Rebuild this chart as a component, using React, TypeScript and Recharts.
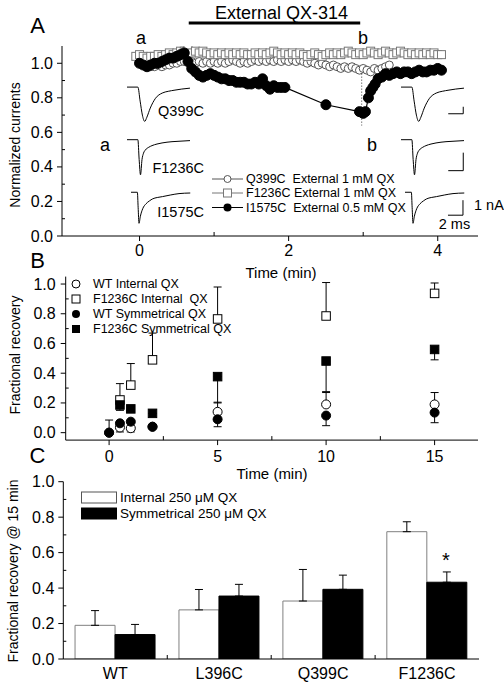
import React from 'react';
import {
  ComposedChart, LineChart, Line, XAxis, YAxis, ReferenceLine,
  ScatterChart, Scatter, ErrorBar, BarChart, Bar,
} from 'recharts';

const FONT = '"Liberation Sans", Arial, Helvetica, sans-serif';

// ---------------- Panel A: normalized currents vs time (min) ----------------
const q399cExternal = [
  { t: 0, v: 1.0 }, { t: 0.05, v: 0.99 }, { t: 0.1, v: 0.99 }, { t: 0.15, v: 0.98 }, { t: 0.2, v: 0.98 },
  { t: 0.25, v: 0.99 }, { t: 0.3, v: 0.98 }, { t: 0.35, v: 0.99 }, { t: 0.4, v: 0.99 }, { t: 0.45, v: 1.0 },
  { t: 0.5, v: 1.0 }, { t: 0.55, v: 1.01 }, { t: 0.6, v: 1.01 }, { t: 0.65, v: 1.02 }, { t: 0.7, v: 1.01 },
  { t: 0.75, v: 1.0 }, { t: 0.8, v: 1.01 }, { t: 0.85, v: 1.0 }, { t: 0.9, v: 1.01 }, { t: 0.95, v: 1.0 },
  { t: 1.0, v: 1.01 }, { t: 1.05, v: 1.0 }, { t: 1.1, v: 1.01 }, { t: 1.15, v: 1.0 }, { t: 1.2, v: 1.01 },
  { t: 1.25, v: 1.02 }, { t: 1.3, v: 1.01 }, { t: 1.35, v: 1.0 }, { t: 1.4, v: 1.01 }, { t: 1.45, v: 1.0 },
  { t: 1.5, v: 1.01 }, { t: 1.55, v: 1.02 }, { t: 1.6, v: 1.01 }, { t: 1.65, v: 1.02 }, { t: 1.7, v: 1.01 },
  { t: 1.75, v: 1.02 }, { t: 1.8, v: 1.01 }, { t: 1.85, v: 1.02 }, { t: 1.9, v: 1.01 }, { t: 1.95, v: 1.02 },
  { t: 2.0, v: 1.01 }, { t: 2.05, v: 1.02 }, { t: 2.1, v: 1.01 }, { t: 2.15, v: 1.02 }, { t: 2.2, v: 1.01 },
  { t: 2.25, v: 1.0 }, { t: 2.3, v: 1.01 }, { t: 2.35, v: 1.0 }, { t: 2.4, v: 0.99 }, { t: 2.45, v: 1.0 },
  { t: 2.5, v: 0.99 }, { t: 2.55, v: 0.98 }, { t: 2.6, v: 0.99 }, { t: 2.65, v: 0.98 }, { t: 2.7, v: 0.97 },
  { t: 2.75, v: 0.98 }, { t: 2.8, v: 0.97 }, { t: 2.85, v: 0.98 }, { t: 2.9, v: 0.97 }, { t: 2.95, v: 0.96 },
  { t: 3.0, v: 0.97 }, { t: 3.05, v: 0.96 }, { t: 3.1, v: 0.95 }, { t: 3.15, v: 0.97 }, { t: 3.2, v: 0.96 },
  { t: 3.25, v: 0.97 }, { t: 3.3, v: 0.98 }, { t: 3.35, v: 0.99 },
];

const f1236cExternal = [
  { t: -0.05, v: 1.04 }, { t: 0, v: 1.05 }, { t: 0.05, v: 1.04 }, { t: 0.1, v: 1.03 }, { t: 0.15, v: 1.04 },
  { t: 0.2, v: 1.04 }, { t: 0.25, v: 1.05 }, { t: 0.3, v: 1.04 }, { t: 0.35, v: 1.05 }, { t: 0.4, v: 1.06 },
  { t: 0.45, v: 1.05 }, { t: 0.5, v: 1.06 }, { t: 0.55, v: 1.07 }, { t: 0.6, v: 1.07 }, { t: 0.65, v: 1.08 },
  { t: 0.7, v: 1.06 }, { t: 0.75, v: 1.07 }, { t: 0.8, v: 1.06 }, { t: 0.85, v: 1.07 }, { t: 0.9, v: 1.06 },
  { t: 0.95, v: 1.05 }, { t: 1.0, v: 1.06 }, { t: 1.05, v: 1.05 }, { t: 1.1, v: 1.06 }, { t: 1.15, v: 1.05 },
  { t: 1.2, v: 1.06 }, { t: 1.25, v: 1.05 }, { t: 1.3, v: 1.06 }, { t: 1.35, v: 1.05 }, { t: 1.4, v: 1.06 },
  { t: 1.45, v: 1.05 }, { t: 1.5, v: 1.05 }, { t: 1.55, v: 1.06 }, { t: 1.6, v: 1.05 }, { t: 1.65, v: 1.06 },
  { t: 1.7, v: 1.05 }, { t: 1.75, v: 1.06 }, { t: 1.8, v: 1.07 }, { t: 1.85, v: 1.06 }, { t: 1.9, v: 1.05 },
  { t: 1.95, v: 1.06 }, { t: 2.0, v: 1.05 }, { t: 2.05, v: 1.06 }, { t: 2.1, v: 1.05 }, { t: 2.15, v: 1.06 },
  { t: 2.2, v: 1.05 }, { t: 2.25, v: 1.04 }, { t: 2.3, v: 1.05 }, { t: 2.35, v: 1.06 }, { t: 2.4, v: 1.05 },
  { t: 2.45, v: 1.04 }, { t: 2.5, v: 1.05 }, { t: 2.55, v: 1.06 }, { t: 2.6, v: 1.05 }, { t: 2.65, v: 1.06 },
  { t: 2.7, v: 1.05 }, { t: 2.75, v: 1.06 }, { t: 2.8, v: 1.07 }, { t: 2.85, v: 1.06 }, { t: 2.9, v: 1.05 },
  { t: 2.95, v: 1.06 }, { t: 3.0, v: 1.05 }, { t: 3.05, v: 1.06 }, { t: 3.1, v: 1.07 }, { t: 3.15, v: 1.06 },
  { t: 3.2, v: 1.05 }, { t: 3.25, v: 1.06 }, { t: 3.3, v: 1.07 }, { t: 3.35, v: 1.06 }, { t: 3.4, v: 1.05 },
  { t: 3.45, v: 1.06 }, { t: 3.5, v: 1.07 }, { t: 3.55, v: 1.06 }, { t: 3.6, v: 1.05 }, { t: 3.65, v: 1.06 },
  { t: 3.7, v: 1.05 }, { t: 3.75, v: 1.06 }, { t: 3.8, v: 1.05 }, { t: 3.85, v: 1.06 }, { t: 3.9, v: 1.05 },
  { t: 3.95, v: 1.06 }, { t: 4.0, v: 1.05 }, { t: 4.05, v: 1.05 },
];

const i1575cExternal = [
  { t: 0, v: 1.0 }, { t: 0.05, v: 0.99 }, { t: 0.1, v: 0.98 }, { t: 0.15, v: 0.99 }, { t: 0.2, v: 1.0 },
  { t: 0.25, v: 1.0 }, { t: 0.3, v: 1.01 }, { t: 0.35, v: 1.02 }, { t: 0.4, v: 1.03 }, { t: 0.45, v: 1.03 },
  { t: 0.5, v: 1.04 }, { t: 0.55, v: 1.05 }, { t: 0.6, v: 1.06 }, { t: 0.65, v: 1.01 }, { t: 0.7, v: 0.97 },
  { t: 0.75, v: 0.95 }, { t: 0.8, v: 0.93 }, { t: 0.85, v: 0.92 }, { t: 0.9, v: 0.93 }, { t: 0.95, v: 0.94 },
  { t: 1.0, v: 0.93 }, { t: 1.05, v: 0.92 }, { t: 1.1, v: 0.91 }, { t: 1.15, v: 0.91 }, { t: 1.2, v: 0.9 },
  { t: 1.25, v: 0.9 }, { t: 1.3, v: 0.89 }, { t: 1.35, v: 0.89 }, { t: 1.4, v: 0.89 }, { t: 1.45, v: 0.88 },
  { t: 1.5, v: 0.88 }, { t: 1.55, v: 0.89 }, { t: 1.6, v: 0.88 }, { t: 1.65, v: 0.91 }, { t: 1.7, v: 0.87 },
  { t: 1.75, v: 0.85 }, { t: 1.8, v: 0.87 }, { t: 1.85, v: 0.86 }, { t: 1.9, v: 0.86 }, { t: 1.95, v: 0.86 },
  { t: 2.5, v: 0.76 }, { t: 2.95, v: 0.72 }, { t: 3.0, v: 0.71 }, { t: 3.03, v: 0.72 }, { t: 3.07, v: 0.8 },
  { t: 3.1, v: 0.84 }, { t: 3.13, v: 0.86 }, { t: 3.16, v: 0.88 }, { t: 3.2, v: 0.91 }, { t: 3.25, v: 0.92 },
  { t: 3.3, v: 0.94 }, { t: 3.35, v: 0.93 }, { t: 3.4, v: 0.94 }, { t: 3.45, v: 0.95 }, { t: 3.5, v: 0.94 },
  { t: 3.55, v: 0.95 }, { t: 3.6, v: 0.95 }, { t: 3.65, v: 0.94 }, { t: 3.7, v: 0.95 }, { t: 3.75, v: 0.96 },
  { t: 3.8, v: 0.95 }, { t: 3.85, v: 0.95 }, { t: 3.9, v: 0.96 }, { t: 3.95, v: 0.96 }, { t: 4.0, v: 0.97 },
  { t: 4.05, v: 0.96 },
];

const qxApplication = { start: 0.66, end: 2.96, level: 1.233 };
const timeB = { t: 2.98, top: 0.94, bottom: 0.64 };
const ticksA_X = [0, 1, 2, 3, 4];
const majorsA_X = [0, 2, 4];
const ticksUnit = [0, 0.1, 0.2, 0.3, 0.4, 0.5, 0.6, 0.7, 0.8, 0.9, 1.0];
const majorsUnit = [0, 0.2, 0.4, 0.6, 0.8, 1.0];

// current traces (ms, nA)
const traceQ399C = [
  { ms: 0, nA: 0 }, { ms: 1.45, nA: 0 }, { ms: 1.75, nA: -2.0 }, { ms: 2.05, nA: -4.0 }, { ms: 2.36, nA: -4.9 },
  { ms: 2.65, nA: -4.3 }, { ms: 3.1, nA: -3.0 }, { ms: 3.8, nA: -1.6 }, { ms: 4.7, nA: -0.85 }, { ms: 5.5, nA: -0.6 },
  { ms: 6.4, nA: -0.43 }, { ms: 7.3, nA: -0.28 }, { ms: 8.4, nA: -0.15 },
];
const traceF1236C = [
  { ms: 0, nA: 0 }, { ms: 1.45, nA: 0 }, { ms: 1.62, nA: -1.1 }, { ms: 1.8, nA: -1.95 }, { ms: 2.0, nA: -1.1 },
  { ms: 2.2, nA: -0.75 }, { ms: 2.45, nA: -0.57 }, { ms: 2.9, nA: -0.42 }, { ms: 3.33, nA: -0.33 }, { ms: 4.0, nA: -0.24 },
  { ms: 4.67, nA: -0.18 }, { ms: 6.0, nA: -0.11 }, { ms: 7.2, nA: -0.08 }, { ms: 8.4, nA: -0.05 },
];
const traceI1575C = [
  { ms: 0, nA: 0 }, { ms: 0.85, nA: 0 }, { ms: 0.95, nA: -1.0 }, { ms: 1.07, nA: -2.07 }, { ms: 1.25, nA: -1.6 },
  { ms: 1.56, nA: -1.1 }, { ms: 2.0, nA: -0.77 }, { ms: 2.45, nA: -0.58 }, { ms: 2.89, nA: -0.44 }, { ms: 3.5, nA: -0.35 },
  { ms: 4.2, nA: -0.29 }, { ms: 5.3, nA: -0.18 }, { ms: 6.4, nA: -0.09 }, { ms: 7.9, nA: -0.05 },
];
// scale bars: 2 ms horizontal, 1 nA vertical
const barQ399C = [{ ms: 6.3, nA: -3.81 }, { ms: 8.3, nA: -3.81 }, { ms: 8.3, nA: -2.81 }];
const barF1236C = [{ ms: 6.3, nA: -1.72 }, { ms: 8.3, nA: -1.72 }, { ms: 8.3, nA: -0.72 }];
const barI1575C = [{ ms: 5.73, nA: -1.53 }, { ms: 7.73, nA: -1.53 }, { ms: 7.73, nA: -0.53 }];

// ---------------- Panel B: fractional recovery vs time ----------------
const wtInternal = [
  { t: 0, v: 0.0, err: [0, 0.085] }, { t: 0.5, v: 0.035, err: [0.03, 0] }, { t: 1, v: 0.03, err: [0.025, 0] },
  { t: 2, v: 0.04, err: [0, 0] }, { t: 5, v: 0.14, err: [0, 0.065] }, { t: 10, v: 0.19, err: [0, 0.08] },
  { t: 15, v: 0.19, err: [0, 0.08] },
];
const f1236cInternal = [
  { t: 0.5, v: 0.22, err: [0, 0.11] }, { t: 1, v: 0.32, err: [0, 0.145] }, { t: 2, v: 0.49, err: [0, 0.18] },
  { t: 5, v: 0.765, err: [0, 0.215] }, { t: 10, v: 0.785, err: [0, 0.225] }, { t: 15, v: 0.937, err: [0, 0.07] },
];
const wtSymmetrical = [
  { t: 0, v: 0.0, err: [0, 0] }, { t: 0.5, v: 0.063, err: [0, 0] }, { t: 1, v: 0.074, err: [0, 0] },
  { t: 2, v: 0.04, err: [0, 0] }, { t: 5, v: 0.09, err: [0.05, 0] }, { t: 10, v: 0.115, err: [0.068, 0] },
  { t: 15, v: 0.135, err: [0.068, 0] },
];
const f1236cSymmetrical = [
  { t: 0.5, v: 0.186, err: [0.036, 0] }, { t: 1, v: 0.16, err: [0, 0] }, { t: 2, v: 0.13, err: [0, 0] },
  { t: 5, v: 0.377, err: [0.177, 0] }, { t: 10, v: 0.482, err: [0.206, 0] }, { t: 15, v: 0.56, err: [0.07, 0] },
];
const ticksB_X = [0, 2.5, 5, 7.5, 10, 12.5, 15];
const majorsB_X = [0, 5, 10, 15];

// ---------------- Panel C: fractional recovery @ 15 min ----------------
const genotypes = ['WT', 'L396C', 'Q399C', 'F1236C'];
const internalMean = [0.19, 0.277, 0.327, 0.718];
const internalErr = [0.083, 0.115, 0.178, 0.056];
const symmetricalMean = [0.138, 0.355, 0.393, 0.433];
const symmetricalErr = [0.057, 0.066, 0.08, 0.058];

const cData = genotypes.map((g, i) => ({
  name: g,
  internal: internalMean[i],
  internalE: [0, internalErr[i]],
  sym: symmetricalMean[i],
  symE: [0, symmetricalErr[i]],
}));

// ---------------- helpers ----------------
const isIn = (arr: number[], v: number) => arr.some((m) => Math.abs(m - v) < 1e-9);

function yTick(majors: number[], gap: number) {
  return (props: any) => {
    const { x, y, payload } = props;
    const v = payload.value;
    const major = isIn(majors, v);
    return (
      <g key={`y-${v}`}>
        {major ? (
          <line x1={x - 5} x2={x} y1={y} y2={y} stroke="#000" strokeWidth={1} />
        ) : (
          <line x1={x} x2={x + 3} y1={y} y2={y} stroke="#000" strokeWidth={1} />
        )}
        {major && (
          <text x={x - gap} y={y} textAnchor="end" dominantBaseline="central" fontSize={16} fontFamily={FONT} fill="#000">
            {v.toFixed(1)}
          </text>
        )}
      </g>
    );
  };
}

function xTick(majors: number[], dy: number) {
  return (props: any) => {
    const { x, y, payload } = props;
    const v = payload.value;
    const major = isIn(majors, v);
    return (
      <g key={`x-${v}`}>
        {major ? (
          <line x1={x} x2={x} y1={y} y2={y + 5} stroke="#000" strokeWidth={1} />
        ) : (
          <line x1={x} x2={x} y1={y} y2={y - 4} stroke="#000" strokeWidth={1} />
        )}
        {major && (
          <text x={x} y={y + dy} textAnchor="middle" dominantBaseline="central" fontSize={16} fontFamily={FONT} fill="#000">
            {String(v)}
          </text>
        )}
      </g>
    );
  };
}

const catTick = (props: any) => {
  const { x, y, payload, index } = props;
  return (
    <g key={`c-${payload.value}`}>
      {index < 3 && <line x1={x + 52} x2={x + 52} y1={y} y2={y - 4} stroke="#000" />}
      <text x={x} y={y + 14} textAnchor="middle" dominantBaseline="central" fontSize={16} fontFamily={FONT} fill="#000">
        {payload.value}
      </text>
    </g>
  );
};

const squareDot = (size: number, fill: string, stroke: string) => (p: any) => (
  <rect key={`sq-${p.index}`} x={p.cx - size / 2} y={p.cy - size / 2} width={size} height={size} fill={fill} stroke={stroke} strokeWidth={1} />
);
const circleDot = (r: number, fill: string, stroke: string) => (p: any) => (
  <circle key={`ci-${p.index}`} cx={p.cx} cy={p.cy} r={r} fill={fill} stroke={stroke} strokeWidth={1} />
);

type TraceProps = {
  left: number; top: number; width: number; height: number;
  xDomain: [number, number]; yDomain: [number, number];
  trace: { ms: number; nA: number }[]; bar?: { ms: number; nA: number }[];
};
function Trace({ left, top, width, height, xDomain, yDomain, trace, bar }: TraceProps) {
  return (
    <div style={{ position: 'absolute', left, top, width, height }}>
      <LineChart width={width} height={height} margin={{ top: 0, right: 0, bottom: 0, left: 0 }}>
        <XAxis type="number" dataKey="ms" domain={xDomain} hide allowDataOverflow />
        <YAxis type="number" dataKey="nA" domain={yDomain} hide allowDataOverflow />
        <Line data={trace} dataKey="nA" type="monotone" stroke="#000" strokeWidth={1} dot={false} activeDot={false} isAnimationActive={false} />
        {bar && (
          <Line data={bar} dataKey="nA" type="linear" stroke="#000" strokeWidth={1} dot={false} activeDot={false} isAnimationActive={false} />
        )}
      </LineChart>
    </div>
  );
}

const T = (p: any) => <text fontFamily={FONT} fill="#000" dominantBaseline="central" style={{ whiteSpace: 'pre' }} {...p} />;

export default function App() {
  const rows = [
    { trace: traceQ399C, bar: barQ399C, ax: 126.7, top: 85.2, h: 39.2, yd: [-5.3, 0.3] as [number, number] },
    { trace: traceF1236C, bar: barF1236C, ax: 126.7, top: 137.3, h: 40.5, yd: [-2.1, 0.15] as [number, number] },
    { trace: traceI1575C, bar: barI1575C, ax: 130.5, top: 189.75, h: 36, yd: [-2.25, 0.15] as [number, number] },
  ];
  return (
    <div style={{ position: 'absolute', left: 0, top: 0, width: 504, height: 682, background: '#fff', overflow: 'hidden' }}>
      {/* Panel A */}
      <div style={{ position: 'absolute', left: 0, top: 0 }}>
        <ComposedChart width={504} height={290} margin={{ top: 46, right: 26, bottom: 0, left: 0 }}>
          <XAxis type="number" dataKey="t" domain={[-1.04, 4.54]} allowDataOverflow ticks={ticksA_X} interval={0}
            tickSize={0} tickMargin={0} tickLine={false} tick={xTick(majorsA_X, 14)} height={54} stroke="#000" />
          <YAxis type="number" dataKey="v" domain={[0, 1.1]} allowDataOverflow ticks={ticksUnit} interval={0}
            tickSize={0} tickMargin={0} tickLine={false} tick={yTick(majorsUnit, 9)} width={62} stroke="#000" />
          <ReferenceLine segment={[{ x: qxApplication.start, y: qxApplication.level }, { x: qxApplication.end, y: qxApplication.level }]}
            stroke="#000" strokeWidth={3} ifOverflow="visible" />
          <ReferenceLine segment={[{ x: timeB.t, y: timeB.top }, { x: timeB.t, y: timeB.bottom }]}
            stroke="#333" strokeWidth={1} strokeDasharray="1 2" ifOverflow="visible" />
          <Line data={q399cExternal} dataKey="v" stroke="#555" strokeWidth={1} dot={circleDot(4, '#fff', '#555')} activeDot={false} isAnimationActive={false} />
          <Line data={f1236cExternal} dataKey="v" stroke="#777" strokeWidth={1} dot={squareDot(8, '#fff', '#777')} activeDot={false} isAnimationActive={false} />
          <Line data={i1575cExternal} dataKey="v" stroke="#000" strokeWidth={1.2} dot={circleDot(5, '#000', '#000')} activeDot={false} isAnimationActive={false} />
        </ComposedChart>
      </div>

      {rows.map((r, i) => (
        <React.Fragment key={`row-${i}`}>
          <Trace left={r.ax} top={r.top} width={63} height={r.h} xDomain={[0, 8.4]} yDomain={r.yd} trace={r.trace} />
          <Trace left={r.ax + 274} top={r.top} width={63} height={r.h} xDomain={[0, 8.4]} yDomain={r.yd} trace={r.trace} bar={r.bar} />
        </React.Fragment>
      ))}

      {/* Panel B */}
      <div style={{ position: 'absolute', left: 0, top: 250 }}>
        <ScatterChart width={504} height={230} margin={{ top: 26.6, right: 26, bottom: 0, left: 0 }}>
          <XAxis type="number" dataKey="t" domain={[-2, 17]} allowDataOverflow ticks={ticksB_X} interval={0}
            tickSize={0} tickMargin={0} tickLine={false} tick={xTick(majorsB_X, 16)} height={39.9} stroke="#000" />
          <YAxis type="number" dataKey="v" domain={[-0.05, 1.05]} allowDataOverflow ticks={ticksUnit} interval={0}
            tickSize={0} tickMargin={0} tickLine={false} tick={yTick(majorsUnit, 10)} width={65.7} stroke="#000" />
          <Scatter data={wtInternal} isAnimationActive={false} shape={circleDot(4.5, '#fff', '#000')}>
            <ErrorBar dataKey="err" direction="y" width={4} stroke="#000" strokeWidth={1} />
          </Scatter>
          <Scatter data={f1236cInternal} isAnimationActive={false} shape={squareDot(8.5, '#fff', '#000')}>
            <ErrorBar dataKey="err" direction="y" width={4} stroke="#000" strokeWidth={1} />
          </Scatter>
          <Scatter data={wtSymmetrical} isAnimationActive={false} shape={circleDot(4.5, '#000', '#000')}>
            <ErrorBar dataKey="err" direction="y" width={4} stroke="#000" strokeWidth={1} />
          </Scatter>
          <Scatter data={f1236cSymmetrical} isAnimationActive={false} shape={squareDot(8.5, '#000', '#000')}>
            <ErrorBar dataKey="err" direction="y" width={4} stroke="#000" strokeWidth={1} />
          </Scatter>
        </ScatterChart>
      </div>

      {/* Panel C */}
      <div style={{ position: 'absolute', left: 0, top: 440 }}>
        <BarChart width={504} height={242} data={cData} margin={{ top: 41.7, right: 25, bottom: 0, left: 0 }}
          barCategoryGap="11.3%" barGap={0}>
          <XAxis dataKey="name" height={23} tickSize={0} tickMargin={0} tickLine={false} tick={catTick} interval={0} stroke="#000" />
          <YAxis type="number" domain={[0, 1]} allowDataOverflow ticks={ticksUnit} interval={0}
            tickSize={0} tickMargin={0} tickLine={false} tick={yTick(majorsUnit, 9)} width={63.3} stroke="#000" />
          <Bar dataKey="internal" fill="#fff" stroke="#808080" strokeWidth={1} isAnimationActive={false}>
            <ErrorBar dataKey="internalE" direction="y" width={4} stroke="#000" strokeWidth={1} />
          </Bar>
          <Bar dataKey="sym" fill="#000" stroke="#000" strokeWidth={1} isAnimationActive={false}>
            <ErrorBar dataKey="symE" direction="y" width={4} stroke="#000" strokeWidth={1} />
          </Bar>
        </BarChart>
      </div>

      {/* Annotations */}
      <svg width={504} height={682} style={{ position: 'absolute', left: 0, top: 0, pointerEvents: 'none' }}>
        <T x={37.5} y={25} fontSize={22} textAnchor="middle">A</T>
        <T x={37.5} y={260} fontSize={22} textAnchor="middle">B</T>
        <T x={37.5} y={455} fontSize={22} textAnchor="middle">C</T>
        <T x={281.5} y={12.5} fontSize={18} textAnchor="middle">External QX-314</T>
        <T x={141} y={38} fontSize={18} textAnchor="middle">a</T>
        <T x={363} y={38} fontSize={18} textAnchor="middle">b</T>
        <T x={105} y={145} fontSize={18} textAnchor="middle">a</T>
        <T x={372} y={145} fontSize={18} textAnchor="middle">b</T>
        <T x={204} y={111} fontSize={14.5} textAnchor="end">Q399C</T>
        <T x={204} y={168} fontSize={14.5} textAnchor="end">F1236C</T>
        <T x={204} y={212} fontSize={14.5} textAnchor="end">I1575C</T>
        <T x={474} y={205} fontSize={14.5} textAnchor="start">1 nA</T>
        <T x={454.5} y={224} fontSize={14.5} textAnchor="middle">2 ms</T>

        {/* legend A */}
        <line x1={212} x2={243} y1={179} y2={179} stroke="#555" />
        <circle cx={227.5} cy={179} r={3.5} fill="#fff" stroke="#555" />
        <T x={246} y={179} fontSize={12.5}>{'Q399C  External 1 mM QX'}</T>
        <line x1={212} x2={243} y1={193} y2={193} stroke="#777" />
        <rect x={223.5} y={189} width={8} height={8} fill="#fff" stroke="#777" />
        <T x={246} y={193} fontSize={12.5}>{'F1236C External 1 mM QX'}</T>
        <line x1={212} x2={243} y1={207.5} y2={207.5} stroke="#000" />
        <circle cx={227.5} cy={207.5} r={4} fill="#000" />
        <T x={246} y={207.5} fontSize={12.5}>{'I1575C  External 0.5 mM QX'}</T>

        {/* y labels */}
        <T x={15} y={145} fontSize={14} textAnchor="middle" transform="rotate(-90 15 145)">Normalized currents</T>
        <T x={15} y={355} fontSize={14} textAnchor="middle" transform="rotate(-90 15 355)">Fractional recovery</T>
        <T x={13} y={571} fontSize={14} textAnchor="middle" transform="rotate(-90 13 571)">Fractional recovery @ 15 min</T>
        <T x={281} y={272} fontSize={15} textAnchor="middle">Time (min)</T>
        <T x={272} y={473} fontSize={15} textAnchor="middle">Time (min)</T>

        {/* legend B */}
        <circle cx={76} cy={284} r={4} fill="#fff" stroke="#000" />
        <T x={93} y={284} fontSize={12.5}>WT Internal QX</T>
        <rect x={72} y={295} width={8} height={8} fill="#fff" stroke="#000" />
        <T x={93} y={299} fontSize={12.5}>{'F1236C Internal  QX'}</T>
        <circle cx={76} cy={314} r={4} fill="#000" />
        <T x={93} y={314} fontSize={12.5}>WT Symmetrical QX</T>
        <rect x={72} y={325} width={8} height={8} fill="#000" />
        <T x={93} y={329} fontSize={12.5}>F1236C Symmetrical QX</T>

        {/* legend C */}
        <rect x={81.5} y={492} width={35} height={11} fill="#fff" stroke="#555" />
        <T x={120} y={497.5} fontSize={13.5}>Internal 250 μM QX</T>
        <rect x={81.5} y={508} width={35} height={11} fill="#000" stroke="#000" />
        <T x={120} y={513.5} fontSize={13.5}>Symmetrical 250 μM QX</T>
        <T x={446} y={560} fontSize={20} textAnchor="middle">*</T>
      </svg>
    </div>
  );
}
